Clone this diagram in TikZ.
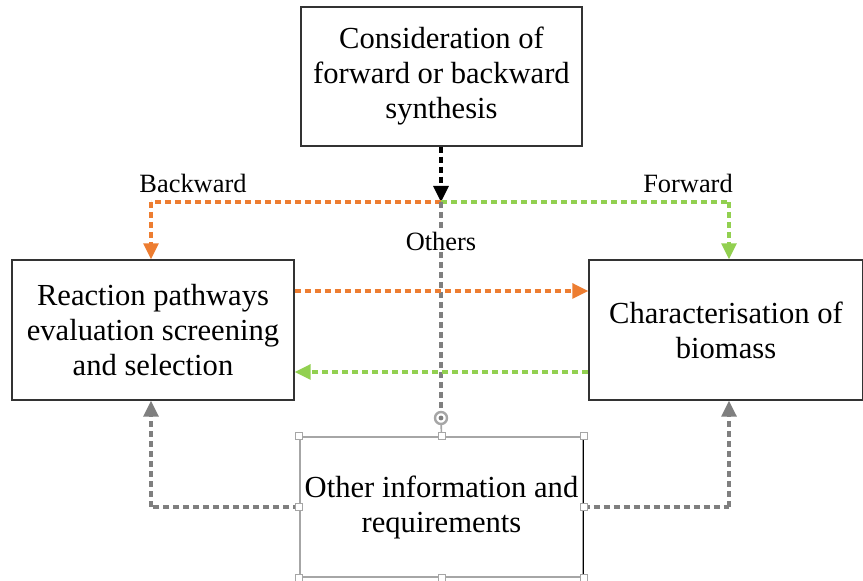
\documentclass[tikz,border=0pt]{standalone}
\usepackage{fontspec}
\setmainfont{Liberation Serif}
\usetikzlibrary{arrows.meta}
\definecolor{orng}{HTML}{ED7D31}
\definecolor{grn}{HTML}{92D050}
\definecolor{gry}{HTML}{7F7F7F}
\definecolor{hdl}{HTML}{A6A6A6}
\begin{document}
\begin{tikzpicture}[x=0.5pt,y=-0.5pt,
  box/.style={draw=black!80,line width=0.7pt,inner sep=0pt,align=center,
    font=\fontsize{15.3}{17.5}\selectfont},
  lbl/.style={font=\fontsize{13.2}{15}\selectfont,inner sep=1pt},
  conn/.style={line width=1.6pt,dash pattern=on 3pt off 2pt,
    -{Triangle[length=8pt,width=7.5pt]}},
  seg/.style={line width=1.6pt,dash pattern=on 3pt off 2pt},
  handle/.style={draw=hdl,fill=white,line width=0.5pt,minimum size=3.5pt,inner sep=0pt}]
\useasboundingbox (0,0) rectangle (863,581);
\node[box,minimum width=281*0.5pt,minimum height=139*0.5pt] (top) at (441.5,76.5)
  {Consideration of\\forward or backward\\synthesis};
\node[box,minimum width=282*0.5pt,minimum height=140*0.5pt] (left) at (153,330)
  {Reaction pathways\\evaluation screening\\and selection};
\node[box,minimum width=274*0.5pt,minimum height=140*0.5pt] (right) at (726,330)
  {Characterisation of\\biomass};
\node[box,draw=hdl,minimum width=283*0.5pt,minimum height=140*0.5pt] (bot) at (441.5,507)
  {Other information and\\requirements};
\draw[black,line width=0.7pt] (bot.north east) -- (bot.south east);
\coordinate (j) at (441,202);
\coordinate (bl) at (151,202);
\coordinate (fr) at (729,202);
\coordinate (rot) at (441,418);
% black arrow from top
\draw[conn,black] (top.south -| j) -- (j);
% backward
\draw[seg,orng] (j) -- (bl);
\draw[conn,orng] (bl) -- (left.north -| bl);
\node[lbl] (bw) at (193,183) {Backward};
% forward
\draw[seg,grn] (j) -- (fr);
\draw[conn,grn] (fr) -- (right.north -| fr);
\node[lbl] (fw) at (688,183) {Forward};
% others
\draw[seg,gry] (j) -- (rot);
\node[lbl,fill=white] (oth) at (441,241) {Others};
% between boxes
\draw[conn,orng] (left.east |- 0,291) -- (right.west |- 0,291);
\draw[conn,grn] (right.west |- 0,372) -- (left.east |- 0,372);
% from bottom box
\coordinate (bll) at (151,507);
\coordinate (brr) at (729,507);
\draw[seg,gry] (bot.west) -- (bll);
\draw[conn,gry] (bll) -- (left.south -| bll);
\draw[seg,gry] (bot.east) -- (brr);
\draw[conn,gry] (brr) -- (right.south -| brr);
% selection handles
\draw[hdl,line width=0.8pt] (rot) -- (bot.north);
\node[circle,draw=hdl,line width=1.2pt,fill=white,minimum size=6pt,inner sep=0pt] (rh) at (rot) {};
\fill[gry] (rh.center) circle (1.2pt);
\foreach \a in {north west,north,north east,west,east,south west,south,south east}
  \node[handle] at (bot.\a) {};
\end{tikzpicture}
\end{document}
